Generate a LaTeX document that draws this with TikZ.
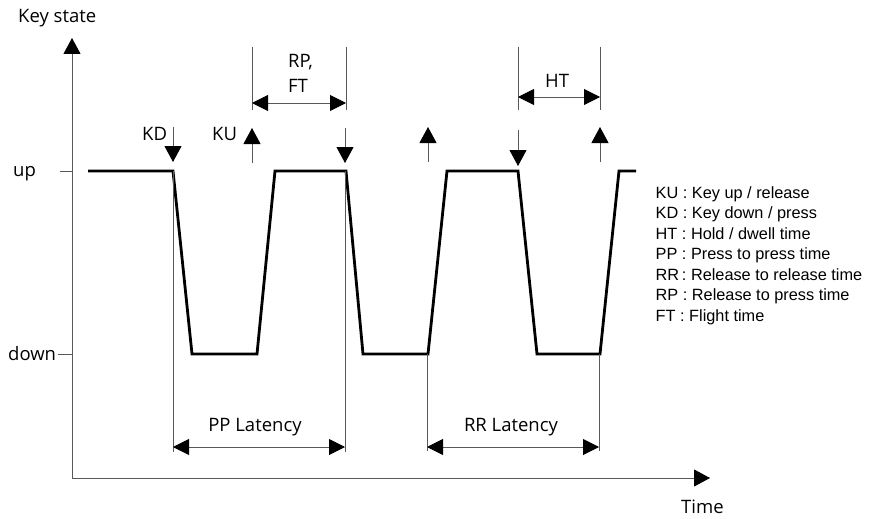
\documentclass[tikz,border=0pt]{standalone}
\usepackage{fontspec}
\setmainfont{Open Sans}
\newfontfamily\legendfont{Liberation Sans}
\usetikzlibrary{arrows.meta}
\begin{document}
\begin{tikzpicture}[x=1pt,y=-1pt,
  thinline/.style={draw=black!65, line width=1pt},
  wave/.style={draw=black, line width=2.8pt, line join=miter},
  tipend/.style={-{Triangle[length=16pt,width=17pt,color=black]}},
  dimline/.style={thinline,{Triangle[length=16pt,width=16pt,color=black]}-{Triangle[length=16pt,width=16pt,color=black]}},
  lbl/.style={inner sep=0pt, font=\fontsize{18.5}{22}\selectfont},
  leg/.style={inner sep=0pt, anchor=base west, font=\legendfont\fontsize{16.3}{20}\selectfont}]
\useasboundingbox (0,0) rectangle (873,519);

% axes
\coordinate (O) at (72,478);
\coordinate (ytop) at (72,38);
\coordinate (xend) at (710,478);
\draw[thinline,tipend] (O) -- (ytop);
\draw[thinline,tipend] (O) -- (xend);
\coordinate (upt1) at (60,171); \coordinate (upt2) at (72,171);
\coordinate (dnt1) at (58,354); \coordinate (dnt2) at (72,354);
\draw[thinline] (upt1) -- (upt2);
\draw[thinline] (dnt1) -- (dnt2);

% axis labels
\node[lbl, anchor=base west] (keystate) at (18,23) {Key state};
\node[lbl, anchor=base west] (up) at (13,176) {up};
\node[lbl, anchor=base west] (down) at (8,360) {down};
\node[lbl, anchor=base west] (time) at (681,513) {Time};

% waveform
\draw[wave] (88,171) -- (173,171) -- (192,354) -- (257,354) -- (275,171)
  -- (346,171) -- (363,354) -- (428,354) -- (447,171)
  -- (518,171) -- (537,354) -- (600,354) -- (619,171) -- (636,171);

% key event arrows
\coordinate (kd1a) at (173,127); \coordinate (kd1b) at (173,162);
\coordinate (ku1a) at (252,163); \coordinate (ku1b) at (252,128);
\coordinate (kd2a) at (345,128); \coordinate (kd2b) at (345,163);
\coordinate (ku2a) at (428,162); \coordinate (ku2b) at (428,127);
\coordinate (kd3a) at (518,130); \coordinate (kd3b) at (518,166);
\coordinate (ku3a) at (600,162); \coordinate (ku3b) at (600,127);
\draw[thinline,tipend] (kd1a) -- (kd1b);
\draw[thinline,tipend] (ku1a) -- (ku1b);
\draw[thinline,tipend] (kd2a) -- (kd2b);
\draw[thinline,tipend] (ku2a) -- (ku2b);
\draw[thinline,tipend] (kd3a) -- (kd3b);
\draw[thinline,tipend] (ku3a) -- (ku3b);
\node[lbl, anchor=base west] (kd) at (142,140) {KD};
\node[lbl, anchor=base west] (ku) at (212,140) {KU};

% RP, FT dimension
\coordinate (rpL1) at (252,47); \coordinate (rpL2) at (252,110);
\coordinate (rpR1) at (346,47); \coordinate (rpR2) at (346,110);
\coordinate (rpA) at (252,103); \coordinate (rpB) at (346,103);
\draw[thinline] (rpL1) -- (rpL2);
\draw[thinline] (rpR1) -- (rpR2);
\draw[dimline] (rpA) -- (rpB);
\node[lbl, anchor=base west] (rp) at (288,68) {RP,};
\node[lbl, anchor=base west] (ft) at (288,92.7) {FT};

% HT dimension
\coordinate (htL1) at (518,47); \coordinate (htL2) at (518,110);
\coordinate (htR1) at (600,47); \coordinate (htR2) at (600,110);
\coordinate (htA) at (518,97); \coordinate (htB) at (600,97);
\draw[thinline] (htL1) -- (htL2);
\draw[thinline] (htR1) -- (htR2);
\draw[dimline] (htA) -- (htB);
\node[lbl, anchor=base west] (ht) at (545,88) {HT};

% PP latency
\coordinate (ppL1) at (173,171); \coordinate (ppL2) at (173,452);
\coordinate (ppR1) at (345,171); \coordinate (ppR2) at (345,452);
\coordinate (ppA) at (173,447); \coordinate (ppB) at (345,447);
\draw[thinline] (ppL1) -- (ppL2);
\draw[thinline] (ppR1) -- (ppR2);
\draw[dimline] (ppA) -- (ppB);
\node[lbl, anchor=base] (pp) at (255,431.7) {PP Latency};

% RR latency
\coordinate (rrL1) at (427,354); \coordinate (rrL2) at (427,451);
\coordinate (rrR1) at (599,354); \coordinate (rrR2) at (599,451);
\coordinate (rrA) at (427,447); \coordinate (rrB) at (599,447);
\draw[thinline] (rrL1) -- (rrL2);
\draw[thinline] (rrR1) -- (rrR2);
\draw[dimline] (rrA) -- (rrB);
\node[lbl, anchor=base] (rr) at (511,431.7) {RR Latency};

% legend
\node[leg] (l1) at (655.5,198.3) {KU : Key up / release};
\node[leg] (l2) at (655.5,218.8) {KD : Key down / press};
\node[leg] (l3) at (655.5,239.3) {HT : Hold / dwell time};
\node[leg] (l4) at (655.5,259.8) {PP : Press to press time};
\node[leg] (l5) at (655.5,280.3) {RR\,: Release to release time};
\node[leg] (l6) at (655.5,300.8) {RP : Release to press time};
\node[leg] (l7) at (655.5,321.3) {FT : Flight time};
\end{tikzpicture}
\end{document}
